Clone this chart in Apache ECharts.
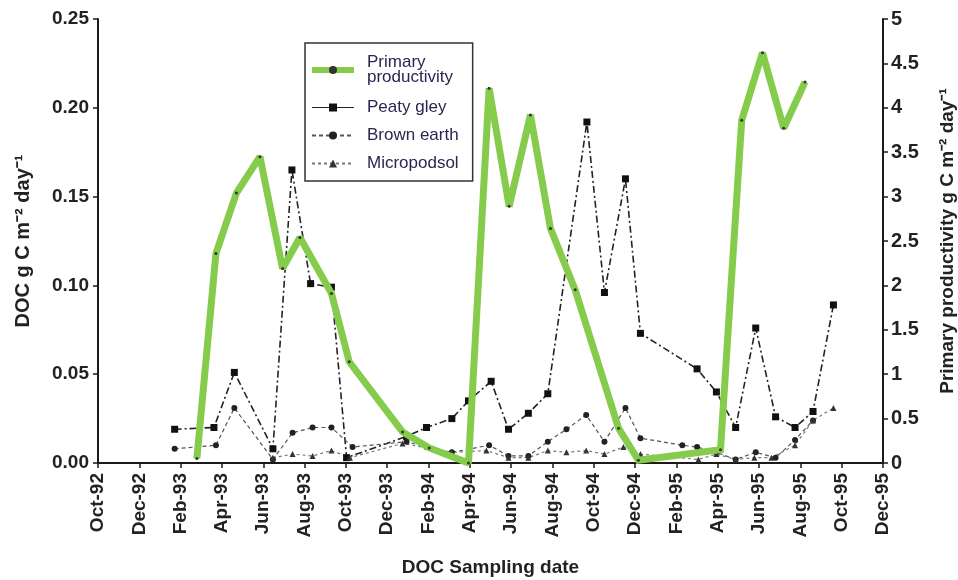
<!DOCTYPE html>
<html>
<head>
<meta charset="utf-8">
<script src="https://cdn.jsdelivr.net/npm/echarts@6/dist/echarts.min.js"></script>
<style>
  html, body { margin: 0; padding: 0; background: #fff; }
  #chart { width: 958px; height: 580px; }
</style>
</head>
<body>
<div id="chart"></div>
<script>
// Tick labels along the date axis (every second month, Oct-92 .. Dec-95)
const tickLabels = ['Oct-92','Dec-92','Feb-93','Apr-93','Jun-93','Aug-93','Oct-93','Dec-93',
  'Feb-94','Apr-94','Jun-94','Aug-94','Oct-94','Dec-94','Feb-95','Apr-95','Jun-95','Aug-95',
  'Oct-95','Dec-95'];

// Primary productivity, g C m-2 day-1 (right axis)
const ppDates = ['1993-02-23','1993-03-23','1993-04-22','1993-05-27','1993-06-29','1993-07-25',
  '1993-09-10','1993-10-06','1993-12-24','1994-02-02','1994-03-30','1994-04-29','1994-05-29',
  '1994-06-29','1994-07-29','1994-09-04','1994-11-07','1994-12-06','1995-04-05','1995-05-06',
  '1995-06-06','1995-07-07','1995-08-08'];
const ppValues = [0.05, 2.36, 3.04, 3.45, 2.19, 2.54, 1.91, 1.14, 0.35, 0.17, 0.0, 4.22, 2.89,
  3.92, 2.64, 1.95, 0.39, 0.03, 0.15, 3.86, 4.62, 3.77, 4.29];

// Peaty gley DOC, g C m-2 day-1 (left axis)
const peatyDates = ['1993-01-23','1993-03-20','1993-04-19','1993-06-15','1993-07-13','1993-08-10',
  '1993-09-10','1993-10-02','1993-12-30','1994-01-29','1994-03-05','1994-03-30','1994-05-02',
  '1994-05-28','1994-06-26','1994-07-25','1994-09-21','1994-10-17','1994-11-17','1994-12-09',
  '1995-03-01','1995-03-30','1995-04-27','1995-05-27','1995-06-25','1995-07-24','1995-08-20',
  '1995-09-19'];
const peatyValues = [0.019, 0.020, 0.051, 0.008, 0.165, 0.101, 0.099, 0.003, 0.015, 0.020, 0.025,
  0.035, 0.046, 0.019, 0.028, 0.039, 0.192, 0.096, 0.160, 0.073, 0.053, 0.040, 0.020, 0.076,
  0.026, 0.020, 0.029, 0.089];

// Brown earth DOC (left axis)
const brownDates = ['1993-01-23','1993-03-23','1993-04-19','1993-06-15','1993-07-14','1993-08-13',
  '1993-09-10','1993-10-11','1993-12-30','1994-01-29','1994-03-05','1994-04-29','1994-05-28',
  '1994-06-26','1994-07-25','1994-08-22','1994-09-20','1994-10-17','1994-11-17','1994-12-09',
  '1995-02-09','1995-03-01','1995-03-30','1995-04-27','1995-05-27','1995-06-25','1995-07-24',
  '1995-08-20'];
const brownValues = [0.008, 0.010, 0.031, 0.002, 0.017, 0.020, 0.020, 0.009, 0.012, 0.009, 0.006,
  0.010, 0.004, 0.004, 0.012, 0.019, 0.027, 0.012, 0.031, 0.014, 0.010, 0.009, 0.006, 0.002,
  0.006, 0.003, 0.013, 0.024];

// Micropodsol DOC (left axis)
const microDates = ['1993-06-15','1993-07-14','1993-08-13','1993-09-10','1993-10-07','1993-12-24',
  '1994-03-05','1994-04-25','1994-05-28','1994-06-26','1994-07-25','1994-08-22','1994-09-20',
  '1994-10-17','1994-11-14','1994-12-09','1995-03-03','1995-03-30','1995-04-27','1995-05-25',
  '1995-06-19','1995-07-24','1995-08-20','1995-09-19'];
const microValues = [0.003, 0.005, 0.004, 0.007, 0.003, 0.011, 0.006, 0.007, 0.003, 0.003, 0.007,
  0.006, 0.007, 0.005, 0.009, 0.005, 0.002, 0.005, 0.002, 0.003, 0.003, 0.010, 0.024, 0.031];

// Convert a date to months elapsed since 1 Oct 1992, so the axis steps evenly by month
function monthOffset(s) {
  const [y, m, d] = s.split('-').map(Number);
  const dim = new Date(y, m, 0).getDate();
  return (y - 1992) * 12 + (m - 10) + (d - 1) / dim;
}
function pairs(dates, values) {
  return dates.map((d, i) => [monthOffset(d), values[i]]);
}

const FONT = "'Liberation Sans Narrow', 'Liberation Sans', Arial, sans-serif";
const TEXT = '#222';
const AXIS = '#1a1a1a';
const GREEN = '#86cc4c';

const chart = echarts.init(document.getElementById('chart'), null, { renderer: 'canvas' });

chart.setOption({
  backgroundColor: '#fff',
  animation: false,
  grid: { left: 98, right: 75, top: 19, bottom: 117, containLabel: false, outerBoundsMode: 'none' },
  legend: {
    orient: 'vertical',
    left: 305,
    top: 43,
    padding: [9, 14, 9, 4],
    itemGap: 11,
    itemWidth: 42,
    itemHeight: 10,
    borderColor: '#333',
    borderWidth: 1.5,
    backgroundColor: '#fff',
    textStyle: { fontFamily: FONT, fontSize: 17, lineHeight: 15, color: '#2b2550', padding: [0, 0, 0, 8] },
    formatter: name => name === 'Primary productivity' ? 'Primary\nproductivity' : name,
    data: [
      { name: 'Primary productivity', textStyle: { padding: [3, 0, 3, 8] },
        lineStyle: { color: GREEN, width: 6 } },
      { name: 'Peaty gley', lineStyle: { type: 'solid', width: 1.2 } },
      { name: 'Brown earth' },
      { name: 'Micropodsol' }
    ]
  },
  xAxis: {
    type: 'value',
    min: 0,
    max: 38,
    interval: 2,
    name: 'DOC Sampling date',
    nameLocation: 'middle',
    nameGap: 95,
    nameTextStyle: { fontFamily: FONT, fontSize: 19, fontWeight: 'bold', color: TEXT },
    axisLine: { lineStyle: { color: AXIS, width: 2 } },
    axisTick: { length: 5, lineStyle: { color: AXIS, width: 1.5 } },
    splitLine: { show: false },
    axisLabel: {
      rotate: 90,
      margin: 10,
      fontFamily: FONT,
      fontSize: 19,
      fontWeight: 'bold',
      color: TEXT,
      formatter: v => tickLabels[Math.round(v / 2)] || ''
    }
  },
  yAxis: [
    {
      type: 'value',
      min: 0,
      max: 0.25,
      interval: 0.05,
      name: 'DOC g C m⁻² day⁻¹',
      nameLocation: 'middle',
      nameGap: 65,
      nameTextStyle: { fontFamily: FONT, fontSize: 20, fontWeight: 'bold', color: TEXT },
      axisLine: { show: true, lineStyle: { color: AXIS, width: 2 } },
      axisTick: { show: true, length: 5, lineStyle: { color: AXIS, width: 1.5 } },
      splitLine: { show: false },
      axisLabel: {
        margin: 9, fontFamily: FONT, fontSize: 19, fontWeight: 'bold', color: TEXT,
        formatter: v => v.toFixed(2)
      }
    },
    {
      type: 'value',
      min: 0,
      max: 5,
      interval: 0.5,
      position: 'right',
      name: 'Primary productivity g C m⁻² day⁻¹',
      nameLocation: 'middle',
      nameGap: 55,
      nameRotate: 90,
      nameTextStyle: { fontFamily: FONT, fontSize: 19, fontWeight: 'bold', color: TEXT },
      axisLine: { show: true, lineStyle: { color: AXIS, width: 2 } },
      axisTick: { show: true, length: 5, lineStyle: { color: AXIS, width: 1.5 } },
      splitLine: { show: false },
      axisLabel: {
        margin: 8, fontFamily: FONT, fontSize: 20, fontWeight: 'bold', color: TEXT,
        formatter: v => String(Math.round(v * 10) / 10)
      }
    }
  ],
  series: [
    {
      name: 'Peaty gley',
      type: 'line',
      yAxisIndex: 0,
      data: pairs(peatyDates, peatyValues),
      symbol: 'rect',
      symbolSize: 7,
      itemStyle: { color: '#111' },
      lineStyle: { color: '#222', width: 1.6, type: [7, 3, 2, 3] },
      z: 3
    },
    {
      name: 'Brown earth',
      type: 'line',
      yAxisIndex: 0,
      data: pairs(brownDates, brownValues),
      symbol: 'circle',
      symbolSize: 6,
      itemStyle: { color: '#222' },
      lineStyle: { color: '#555', width: 1.2, type: [4, 3] },
      z: 3
    },
    {
      name: 'Micropodsol',
      type: 'line',
      yAxisIndex: 0,
      data: pairs(microDates, microValues),
      symbol: 'triangle',
      symbolSize: 6,
      itemStyle: { color: '#333' },
      lineStyle: { color: '#777', width: 1.2, type: [3, 3] },
      z: 3
    },
    {
      name: 'Primary productivity',
      type: 'line',
      yAxisIndex: 1,
      data: pairs(ppDates, ppValues),
      symbol: 'circle',
      symbolSize: 3,
      itemStyle: { color: '#333' },
      lineStyle: { color: GREEN, width: 7, join: 'miter', miterLimit: 1.6 },
      z: 5
    }
  ]
});
</script>
</body>
</html>
